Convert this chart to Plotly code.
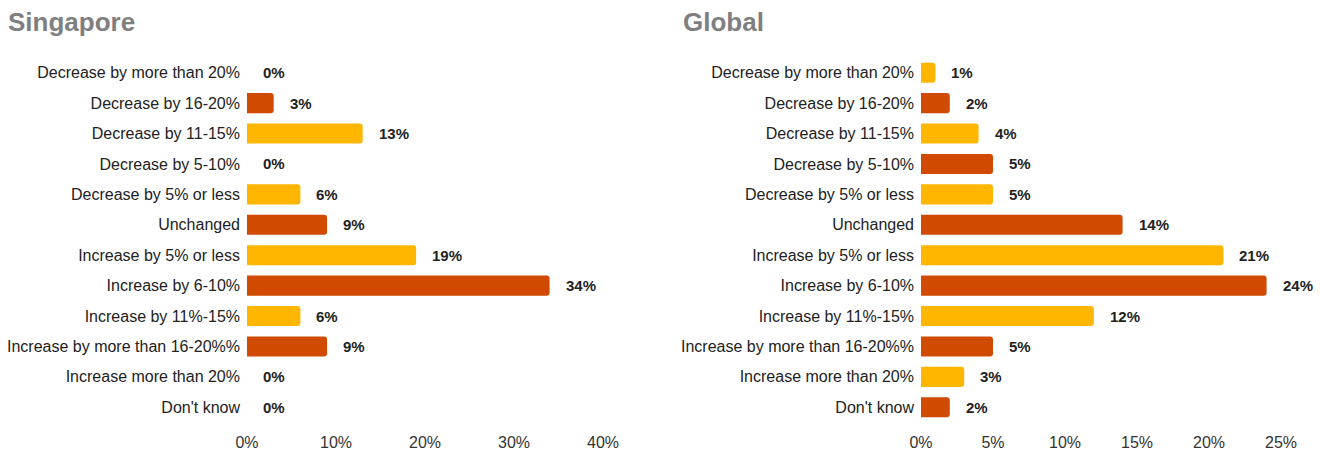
import plotly.graph_objects as go

categories = [
    "Decrease by more than 20%",
    "Decrease by 16-20%",
    "Decrease by 11-15%",
    "Decrease by 5-10%",
    "Decrease by 5% or less",
    "Unchanged",
    "Increase by 5% or less",
    "Increase by 6-10%",
    "Increase by 11%-15%",
    "Increase by more than 16-20%%",
    "Increase more than 20%",
    "Don't know",
]
singapore = [0, 3, 13, 0, 6, 9, 19, 34, 6, 9, 0, 0]
global_vals = [1, 2, 4, 5, 5, 14, 21, 24, 12, 5, 3, 2]

sg_ticks = [0, 10, 20, 30, 40]
gl_ticks = [0, 5, 10, 15, 20, 25]

YELLOW = "#FFB600"
ORANGE = "#D04A02"
bar_colors = [YELLOW if i % 2 == 0 else ORANGE for i in range(len(categories))]

W, H = 1321, 450
FONT = "Liberation Sans, Arial, sans-serif"

fig = go.Figure()
panels = [
    ("x", "y", singapore, "Singapore"),
    ("x2", "y2", global_vals, "Global"),
]
for xa, ya, vals, name in panels:
    fig.add_trace(go.Bar(
        x=vals, y=categories, orientation="h",
        marker=dict(color=bar_colors, line=dict(width=0)),
        xaxis=xa, yaxis=ya, name=name, showlegend=False,
        hoverinfo="x+y",
    ))
    for cat, v in zip(categories, vals):
        fig.add_annotation(
            x=v, y=cat, xref=xa, yref=ya, text=f"<b>{v}%</b>",
            showarrow=False, xanchor="left", xshift=14,
            font=dict(family=FONT, size=15, color="#222222"),
        )

y_dom = [(H - 422.5) / H, (H - 57.5) / H]
axis_common = dict(showgrid=False, zeroline=False, showline=False,
                   ticks="", automargin=False,
                   tickfont=dict(family=FONT, size=16, color="#333333"),
                   ticklabelstandoff=8, fixedrange=True)
yaxis_common = dict(autorange="reversed", showgrid=False, zeroline=False,
                    showline=False, ticks="", automargin=False,
                    tickfont=dict(family=FONT, size=16, color="#222222"),
                    ticklabelstandoff=6, domain=y_dom, fixedrange=True)

fig.update_layout(
    width=W, height=H,
    margin=dict(l=0, r=0, t=0, b=0),
    paper_bgcolor="white", plot_bgcolor="white",
    bargap=0.34, barcornerradius=3,
    xaxis=dict(domain=[247 / W, 603 / W], range=[0, 40],
               tickvals=sg_ticks, ticktext=[f"{t}%" for t in sg_ticks],
               anchor="y", **axis_common),
    xaxis2=dict(domain=[921 / W, 1281 / W], range=[0, 25],
                tickvals=gl_ticks, ticktext=[f"{t}%" for t in gl_ticks],
                anchor="y2", **axis_common),
    yaxis=dict(anchor="x", **yaxis_common),
    yaxis2=dict(anchor="x2", **yaxis_common),
    annotations=list(fig.layout.annotations) + [
        dict(text="<b>Singapore</b>", x=6 / W, y=1 - 22 / H, xref="paper",
             yref="paper", xanchor="left", yanchor="middle", showarrow=False,
             font=dict(family=FONT, size=26, color="#7F7F7F")),
        dict(text="<b>Global</b>", x=681 / W, y=1 - 22 / H, xref="paper",
             yref="paper", xanchor="left", yanchor="middle", showarrow=False,
             font=dict(family=FONT, size=26, color="#7F7F7F")),
    ],
)

fig.write_html("out.html")
